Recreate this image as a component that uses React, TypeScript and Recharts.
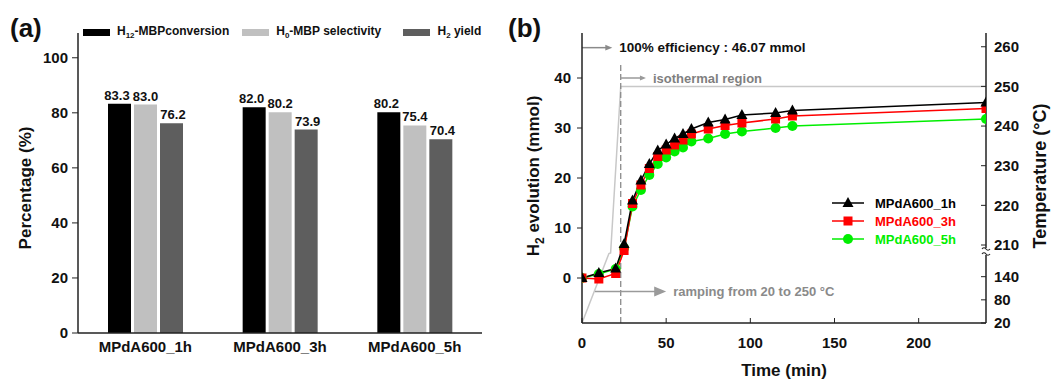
import React from "react";
import {
  BarChart,
  Bar,
  XAxis,
  YAxis,
  LabelList,
  Legend,
  ComposedChart,
  Line,
  ReferenceLine,
} from "recharts";

const FONT = "'Liberation Sans', Arial, Helvetica, sans-serif";
const AX = "#222";
const INK = "#111";

// (a) conversion / selectivity / yield per catalyst
const samples = ["MPdA600_1h", "MPdA600_3h", "MPdA600_5h"];
const conversion = [83.3, 82.0, 80.2];
const selectivity = [83.0, 80.2, 75.4];
const h2Yield = [76.2, 73.9, 70.4];
const pctTicks = [0, 20, 40, 60, 80, 100];
const barKeys = ["conversion", "selectivity", "yield"];
const barColors = ["#000000", "#c0c0c0", "#5e5e5e"];
const labelShift = [-2.5, 0, 1.5];
// [main, subscript, rest]
const barNames = [
  ["H", "12", "-MBPconversion"],
  ["H", "0", "-MBP selectivity"],
  ["H", "2", " yield"],
];

// (b) H2 evolution vs time
const times = [0, 10, 20, 25, 30, 35, 40, 45, 50, 55, 60, 65, 75, 85, 95, 115, 125, 240];
const evo1h = [0, 1.0, 1.9, 6.8, 15.5, 19.5, 22.8, 25.5, 26.7, 27.9, 28.8, 29.8, 31.1, 31.7, 32.6, 33.0, 33.5, 35.1];
const evo3h = [0, -0.2, 0.9, 5.5, 14.9, 18.6, 21.9, 24.3, 25.6, 26.6, 27.6, 28.8, 29.8, 30.5, 31.0, 31.8, 32.4, 33.9];
const evo5h = [0, 0.8, 1.8, 6.0, 14.3, 17.6, 20.6, 22.8, 24.1, 25.3, 26.1, 27.3, 27.9, 28.8, 29.3, 30.0, 30.4, 31.8];
const timeTicks = [0, 50, 100, 150, 200];
const evoTicks = [0, 10, 20, 30, 40];
const lineNames = ["MPdA600_1h", "MPdA600_3h", "MPdA600_5h"];
const lineColors = ["#000000", "#ff0000", "#00ee00"];
const lineShapes = ["triangle", "square", "circle"];

// temperature profile, right axis is broken between 140 and 210 °C
const tempTimes = [0, 16, 17, 23, 240];
const tempValues = [20, 200, 208, 250, 250];
const tempTicks = [20, 80, 140, 210, 220, 230, 240, 250, 260];
const rampEnd = 23;
const fullEfficiency = 46.07;

const tempToAxis = (T: number) =>
  T >= 205 ? 6.6 + (T - 210) * 0.793 : -9 + (T - 20) * 0.0772;

const barRows = samples.map((name, i) => ({
  name,
  conversion: conversion[i],
  selectivity: selectivity[i],
  yield: h2Yield[i],
}));
const evoRows = times.map((t, i) => ({ t, s1: evo1h[i], s3: evo3h[i], s5: evo5h[i] }));
const tempRows = tempTimes.map((t, i) => ({ t, temp: tempToAxis(tempValues[i]) }));

const tickStyle = { fontSize: 15, fontWeight: 700, fill: INK, fontFamily: FONT };

function Marker({ cx, cy, shape, color }: any) {
  if (cx == null || cy == null) return null;
  if (shape === "triangle")
    return <polygon points={`${cx},${cy - 6} ${cx - 5.5},${cy + 4} ${cx + 5.5},${cy + 4}`} fill={color} />;
  if (shape === "square") return <rect x={cx - 4.5} y={cy - 4.5} width={9} height={9} fill={color} />;
  return <circle cx={cx} cy={cy} r={5} fill={color} />;
}

function arrowShape(text: string, color: string, head: number, textColor: string, size = 13) {
  return (p: any) => {
    const { x1, y1, x2, y2 } = p;
    return (
      <g>
        <line x1={x1} y1={y1} x2={x2 - head + 1} y2={y2} stroke={color} strokeWidth={1.5} />
        <polygon points={`${x2},${y2} ${x2 - head},${y2 - head * 0.42} ${x2 - head},${y2 + head * 0.42}`} fill={color} />
        <text x={x2 + 7} y={y2} dy="0.35em" fontSize={size} fontWeight={700} fill={textColor} fontFamily={FONT}>
          {text}
        </text>
      </g>
    );
  };
}

function TempTick(props: any) {
  const { x, y, payload } = props;
  const T = tempTicks.find((v) => Math.abs(tempToAxis(v) - payload.value) < 1e-6);
  const ax = x - 8;
  return (
    <g>
      <text x={x} y={y} dy="0.35em" textAnchor="start" {...tickStyle}>
        {T}
      </text>
      {T === 210 && (
        <g fill="none" stroke={AX} strokeWidth={1.2}>
          <rect x={ax - 2} y={y + 3} width={4} height={7} fill="#fff" stroke="none" />
          <path d={`M ${ax - 4} ${y + 4} q 2 -2.5 4 0 t 4 0`} />
          <path d={`M ${ax - 4} ${y + 9} q 2 -2.5 4 0 t 4 0`} />
        </g>
      )}
    </g>
  );
}

function BarLegend() {
  const widths = [160, 162, 100];
  return (
    <div style={{ display: "flex", fontFamily: FONT, fontSize: 12, fontWeight: 700, color: INK, lineHeight: "14px" }}>
      {barNames.map((n, i) => (
        <div key={i} style={{ width: widths[i], display: "flex", alignItems: "center" }}>
          <span style={{ width: 27, height: 7, background: barColors[i], marginRight: 7, display: "inline-block" }} />
          <span>
            {n[0]}
            <span style={{ fontSize: 8, position: "relative", top: 3 }}>{n[1]}</span>
            {n[2]}
          </span>
        </div>
      ))}
    </div>
  );
}

function LineLegend() {
  return (
    <div style={{ fontFamily: FONT, fontSize: 13, fontWeight: 700 }}>
      {lineNames.map((n, i) => (
        <div key={n} style={{ display: "flex", alignItems: "center", height: 18 }}>
          <svg width={32} height={14} style={{ marginRight: 11 }}>
            <line x1={0} y1={7} x2={32} y2={7} stroke={lineColors[i]} strokeWidth={1.5} />
            <Marker cx={16} cy={7} shape={lineShapes[i]} color={lineColors[i]} />
          </svg>
          <span style={{ color: lineColors[i] }}>{n}</span>
        </div>
      ))}
    </div>
  );
}

export default function App() {
  const axisLine = { stroke: AX, strokeWidth: 1.5 };
  const titleProps = { fontSize: 17, fontWeight: 700, fill: INK, fontFamily: FONT, textAnchor: "middle" as const };
  const panelLabel = { position: "absolute" as const, top: 15, fontFamily: FONT, fontWeight: 700, fontSize: 26, lineHeight: "26px", color: INK };

  return (
    <div style={{ position: "absolute", left: 0, top: 0, width: 1054, height: 379, background: "#fff" }}>
      <div style={{ ...panelLabel, left: 10 }}>(a)</div>
      <div style={{ ...panelLabel, left: 508 }}>(b)</div>

      <div style={{ position: "absolute", left: 0, top: 0 }}>
        <BarChart width={500} height={379} data={barRows} margin={{ top: 33, right: 18, bottom: 0, left: 0 }} barGap={3}>
          <XAxis dataKey="name" height={46} tickLine={false} tickSize={0} tickMargin={8} axisLine={axisLine} tick={tickStyle} interval={0} />
          <XAxis xAxisId="top" orientation="top" dataKey="name" height={0} tick={false} tickLine={false} axisLine={axisLine} />
          <YAxis
            width={78}
            domain={[0, 109]}
            ticks={pctTicks}
            interval={0}
            allowDataOverflow
            tickSize={6}
            tickMargin={4}
            tick={tickStyle}
            axisLine={axisLine}
            tickLine={{ stroke: AX }}
            label={{
              content: () => (
                <text x={25} y={188} transform="rotate(-90 25 188)" dy="0.35em" {...titleProps}>
                  Percentage (%)
                </text>
              ),
            }}
          />
          <YAxis yAxisId="r" orientation="right" width={0} domain={[0, 1]} tick={false} tickLine={false} axisLine={axisLine} />
          {barKeys.map((k, i) => (
            <Bar key={k} dataKey={k} fill={barColors[i]} barSize={23} isAnimationActive={false}>
              <LabelList
                dataKey={k}
                position="top"
                offset={4}
                dx={labelShift[i]}
                formatter={(v: any) => Number(v).toFixed(1)}
                style={{ fontSize: 13, fontWeight: 700, fill: INK, fontFamily: FONT }}
              />
            </Bar>
          ))}
          <Legend
            layout="horizontal"
            verticalAlign="middle"
            align="center"
            content={() => <BarLegend />}
            wrapperStyle={{ top: 24, left: 83, width: 420 }}
          />
        </BarChart>
      </div>

      <div style={{ position: "absolute", left: 520, top: 0 }}>
        <ComposedChart width={534} height={379} data={evoRows} margin={{ top: 33, right: 0, bottom: 0, left: 0 }}>
          <XAxis
            dataKey="t"
            type="number"
            domain={[0, 240]}
            ticks={timeTicks}
            interval={0}
            allowDataOverflow
            height={56}
            tickSize={-5}
            tickMargin={19}
            tick={tickStyle}
            axisLine={axisLine}
            tickLine={{ stroke: AX }}
            label={{
              content: () => (
                <text x={264} y={370} dy="0.35em" {...titleProps}>
                  Time (min)
                </text>
              ),
            }}
          />
          <XAxis xAxisId="top" orientation="top" type="number" dataKey="t" domain={[0, 240]} height={0} tick={false} tickLine={false} axisLine={axisLine} />
          <YAxis
            yAxisId="h2"
            width={62}
            domain={[-9, 49]}
            ticks={evoTicks}
            interval={0}
            allowDataOverflow
            tickSize={5}
            tickMargin={6}
            tick={tickStyle}
            axisLine={axisLine}
            tickLine={{ stroke: AX }}
            label={{
              content: () => (
                <text x={13} y={176} transform="rotate(-90 13 176)" dy="0.35em" {...titleProps}>
                  H<tspan fontSize={12} dy={5}>2</tspan>
                  <tspan dy={-5}> evolution (mmol)</tspan>
                </text>
              ),
            }}
          />
          <YAxis
            yAxisId="temp"
            orientation="right"
            width={68}
            domain={[-9, 49]}
            ticks={tempTicks.map(tempToAxis)}
            interval={0}
            allowDataOverflow
            tickSize={-5}
            tickMargin={13}
            tick={(p: any) => <TempTick {...p} />}
            axisLine={axisLine}
            tickLine={{ stroke: AX }}
            label={{
              content: () => (
                <text x={520} y={176} transform="rotate(-90 520 176)" dy="0.35em" {...titleProps} fontSize={18}>
                  Temperature (°C)
                </text>
              ),
            }}
          />

          <Line
            data={tempRows}
            dataKey="temp"
            yAxisId="temp"
            type="linear"
            stroke="#c8c8c8"
            strokeWidth={1.5}
            dot={false}
            activeDot={false}
            isAnimationActive={false}
          />
          <ReferenceLine
            yAxisId="h2"
            segment={[{ x: rampEnd, y: -9 }, { x: rampEnd, y: 43 }]}
            stroke="#8a8a8a"
            strokeWidth={1.3}
            strokeDasharray="6 3"
            ifOverflow="visible"
          />
          <ReferenceLine
            yAxisId="h2"
            segment={[{ x: 0, y: fullEfficiency }, { x: 18, y: fullEfficiency }]}
            ifOverflow="visible"
            shape={arrowShape("100% efficiency : 46.07 mmol", "#8a8a8a", 7, INK, 13.5)}
          />
          <ReferenceLine
            yAxisId="h2"
            segment={[{ x: rampEnd, y: 40 }, { x: 38, y: 40 }]}
            ifOverflow="visible"
            shape={arrowShape("isothermal region", "#9a9a9a", 6, "#7f7f7f")}
          />
          <ReferenceLine
            yAxisId="h2"
            segment={[{ x: 7.7, y: -2.7 }, { x: 50, y: -2.7 }]}
            ifOverflow="visible"
            shape={arrowShape("ramping from 20 to 250 °C", "#9a9a9a", 12, "#8a8a8a")}
          />

          {[2, 1, 0].map((i) => (
            <Line
              key={lineNames[i]}
              yAxisId="h2"
              dataKey={["s1", "s3", "s5"][i]}
              type="linear"
              stroke={lineColors[i]}
              strokeWidth={1.5}
              activeDot={false}
              isAnimationActive={false}
              dot={(p: any) => (
                <Marker key={`${i}-${p.index}`} cx={p.cx} cy={p.cy} shape={lineShapes[i]} color={lineColors[i]} />
              )}
            />
          ))}

          <Legend
            layout="horizontal"
            verticalAlign="middle"
            align="center"
            content={() => <LineLegend />}
            wrapperStyle={{ top: 194, left: 312, width: 160 }}
          />
        </ComposedChart>
      </div>
    </div>
  );
}
